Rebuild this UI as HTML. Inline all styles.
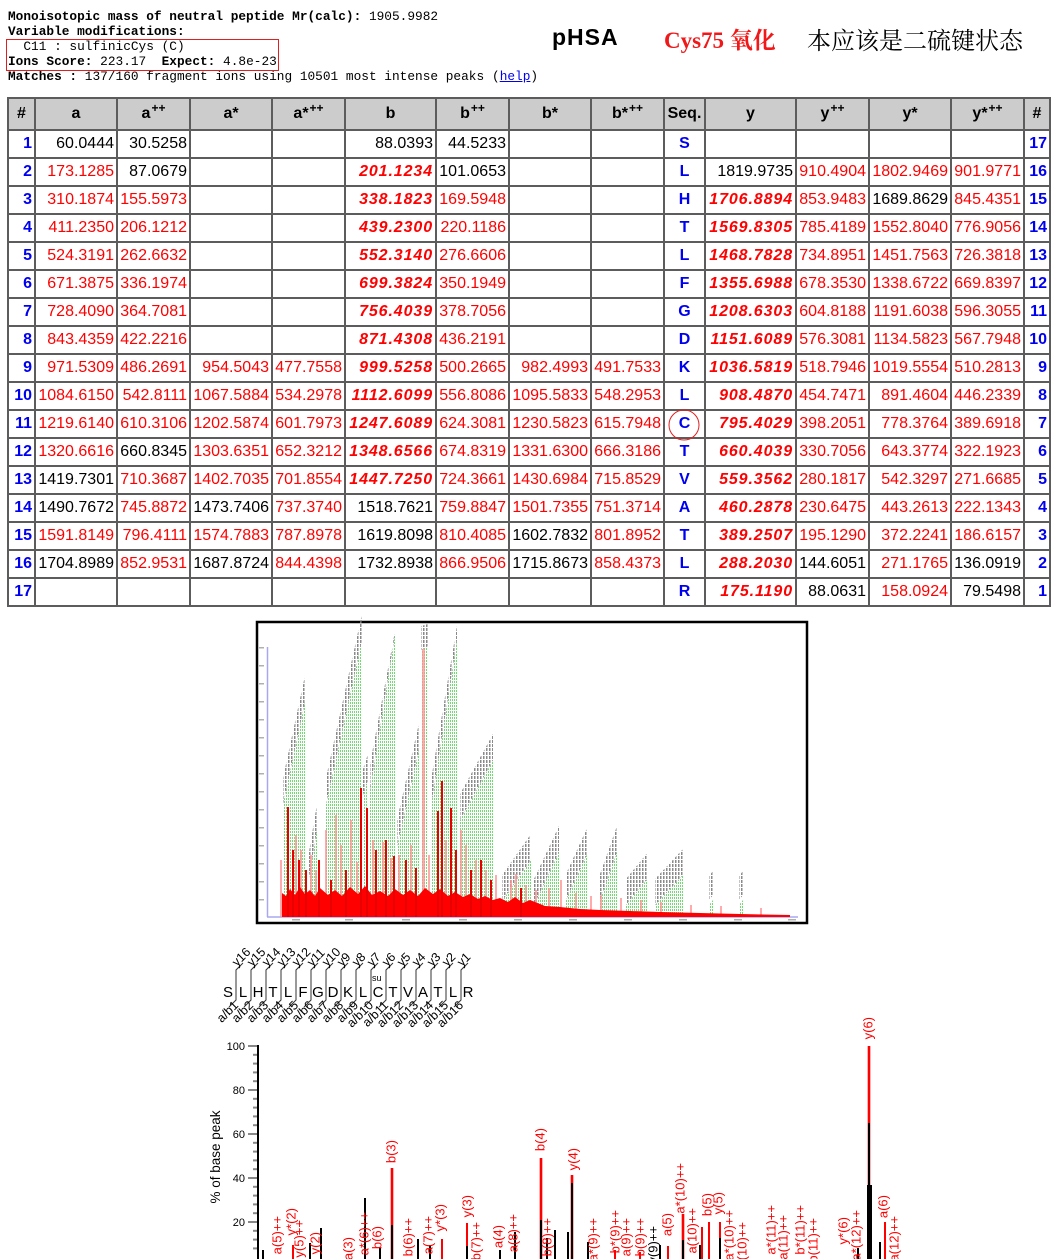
<!DOCTYPE html>
<html><head><meta charset="utf-8">
<style>
html,body{margin:0;padding:0;background:#fff;}
body{width:1062px;height:1259px;position:relative;overflow:hidden;}
.hd{position:absolute;left:8px;top:9px;font:12.8px/15px "Liberation Mono",monospace;white-space:pre;color:#000;}
.hd b{font-weight:bold;}
.box{position:absolute;left:6px;top:39px;width:271px;height:30px;border:1px solid #e02020;}
.help{position:absolute;left:492px;top:69px;font:12.8px/15px "Liberation Mono",monospace;color:#000;}
.help a{color:#0000ee;text-decoration:underline;}
.t1{position:absolute;left:552px;top:24px;font:bold 23px "Liberation Sans",sans-serif;letter-spacing:1px;color:#000;}
.t2{position:absolute;left:664px;top:22px;font:bold 23px "Liberation Serif","Noto Serif CJK SC",serif;color:#f01818;}
.t3{position:absolute;left:807px;top:21px;font:24px "Liberation Serif","Noto Serif CJK SC",serif;color:#000;}
.tbl{position:absolute;left:7px;top:97px;display:grid;
 grid-template-columns:27px 82px 73px 82px 73px 91px 73px 82px 73px 41px 91px 73px 82px 73px 26px;
 grid-template-rows:32px repeat(17,28px);border-left:2px solid #5c5c5c;border-top:2px solid #5c5c5c;}
.tbl>div{border-right:2px solid #5c5c5c;border-bottom:2px solid #5c5c5c;box-sizing:border-box;
 font:16px/26px "Liberation Sans",sans-serif;text-align:right;padding-right:2px;white-space:nowrap;overflow:hidden;color:#000;}
.tbl>div.h{background:#cccccc;font-weight:bold;text-align:center;line-height:30px;padding:0;}
.tbl>div.h i{font-style:normal;font-size:12px;position:relative;top:-6px;margin-left:1px;}
.tbl>div.r{color:#f00;}
.tbl>div.b{color:#f00;font-weight:bold;font-style:italic;letter-spacing:0.9px;}
.tbl>div.n{color:#0000f0;font-weight:bold;}
.tbl>div.s{color:#0000f0;font-weight:bold;text-align:center;padding:0;}
svg.main{position:absolute;left:0;top:0;}
</style></head><body>
<div class="hd"><b>Monoisotopic mass of neutral peptide Mr(calc):</b> 1905.9982
<b>Variable modifications:</b>
  C11 : sulfinicCys (C)
<b>Ions Score:</b> 223.17  <b>Expect:</b> 4.8e-23
<b>Matches :</b> 137/160 fragment ions using 10501 most intense peaks</div>
<div class="box"></div>
<div class="help">(<a>help</a>)</div>
<div class="t1">pHSA</div>
<div class="t2">Cys75 氧化</div>
<div class="t3">本应该是二硫键状态</div>

<div class="tbl">
<div class="h">#</div><div class="h">a</div><div class="h">a<i>++</i></div><div class="h">a*</div><div class="h">a*<i>++</i></div><div class="h">b</div><div class="h">b<i>++</i></div><div class="h">b*</div><div class="h">b*<i>++</i></div><div class="h">Seq.</div><div class="h">y</div><div class="h">y<i>++</i></div><div class="h">y*</div><div class="h">y*<i>++</i></div><div class="h">#</div>

<div class="n">1</div><div>60.0444</div><div>30.5258</div><div></div><div></div><div>88.0393</div><div>44.5233</div><div></div><div></div><div class="s">S</div><div></div><div></div><div></div><div></div><div class="n">17</div>

<div class="n">2</div><div class="r">173.1285</div><div>87.0679</div><div></div><div></div><div class="b">201.1234</div><div>101.0653</div><div></div><div></div><div class="s">L</div><div>1819.9735</div><div class="r">910.4904</div><div class="r">1802.9469</div><div class="r">901.9771</div><div class="n">16</div>

<div class="n">3</div><div class="r">310.1874</div><div class="r">155.5973</div><div></div><div></div><div class="b">338.1823</div><div class="r">169.5948</div><div></div><div></div><div class="s">H</div><div class="b">1706.8894</div><div class="r">853.9483</div><div>1689.8629</div><div class="r">845.4351</div><div class="n">15</div>

<div class="n">4</div><div class="r">411.2350</div><div class="r">206.1212</div><div></div><div></div><div class="b">439.2300</div><div class="r">220.1186</div><div></div><div></div><div class="s">T</div><div class="b">1569.8305</div><div class="r">785.4189</div><div class="r">1552.8040</div><div class="r">776.9056</div><div class="n">14</div>

<div class="n">5</div><div class="r">524.3191</div><div class="r">262.6632</div><div></div><div></div><div class="b">552.3140</div><div class="r">276.6606</div><div></div><div></div><div class="s">L</div><div class="b">1468.7828</div><div class="r">734.8951</div><div class="r">1451.7563</div><div class="r">726.3818</div><div class="n">13</div>

<div class="n">6</div><div class="r">671.3875</div><div class="r">336.1974</div><div></div><div></div><div class="b">699.3824</div><div class="r">350.1949</div><div></div><div></div><div class="s">F</div><div class="b">1355.6988</div><div class="r">678.3530</div><div class="r">1338.6722</div><div class="r">669.8397</div><div class="n">12</div>

<div class="n">7</div><div class="r">728.4090</div><div class="r">364.7081</div><div></div><div></div><div class="b">756.4039</div><div class="r">378.7056</div><div></div><div></div><div class="s">G</div><div class="b">1208.6303</div><div class="r">604.8188</div><div class="r">1191.6038</div><div class="r">596.3055</div><div class="n">11</div>

<div class="n">8</div><div class="r">843.4359</div><div class="r">422.2216</div><div></div><div></div><div class="b">871.4308</div><div class="r">436.2191</div><div></div><div></div><div class="s">D</div><div class="b">1151.6089</div><div class="r">576.3081</div><div class="r">1134.5823</div><div class="r">567.7948</div><div class="n">10</div>

<div class="n">9</div><div class="r">971.5309</div><div class="r">486.2691</div><div class="r">954.5043</div><div class="r">477.7558</div><div class="b">999.5258</div><div class="r">500.2665</div><div class="r">982.4993</div><div class="r">491.7533</div><div class="s">K</div><div class="b">1036.5819</div><div class="r">518.7946</div><div class="r">1019.5554</div><div class="r">510.2813</div><div class="n">9</div>

<div class="n">10</div><div class="r">1084.6150</div><div class="r">542.8111</div><div class="r">1067.5884</div><div class="r">534.2978</div><div class="b">1112.6099</div><div class="r">556.8086</div><div class="r">1095.5833</div><div class="r">548.2953</div><div class="s">L</div><div class="b">908.4870</div><div class="r">454.7471</div><div class="r">891.4604</div><div class="r">446.2339</div><div class="n">8</div>

<div class="n">11</div><div class="r">1219.6140</div><div class="r">610.3106</div><div class="r">1202.5874</div><div class="r">601.7973</div><div class="b">1247.6089</div><div class="r">624.3081</div><div class="r">1230.5823</div><div class="r">615.7948</div><div class="s">C</div><div class="b">795.4029</div><div class="r">398.2051</div><div class="r">778.3764</div><div class="r">389.6918</div><div class="n">7</div>

<div class="n">12</div><div class="r">1320.6616</div><div>660.8345</div><div class="r">1303.6351</div><div class="r">652.3212</div><div class="b">1348.6566</div><div class="r">674.8319</div><div class="r">1331.6300</div><div class="r">666.3186</div><div class="s">T</div><div class="b">660.4039</div><div class="r">330.7056</div><div class="r">643.3774</div><div class="r">322.1923</div><div class="n">6</div>

<div class="n">13</div><div>1419.7301</div><div class="r">710.3687</div><div class="r">1402.7035</div><div class="r">701.8554</div><div class="b">1447.7250</div><div class="r">724.3661</div><div class="r">1430.6984</div><div class="r">715.8529</div><div class="s">V</div><div class="b">559.3562</div><div class="r">280.1817</div><div class="r">542.3297</div><div class="r">271.6685</div><div class="n">5</div>

<div class="n">14</div><div>1490.7672</div><div class="r">745.8872</div><div>1473.7406</div><div class="r">737.3740</div><div>1518.7621</div><div class="r">759.8847</div><div class="r">1501.7355</div><div class="r">751.3714</div><div class="s">A</div><div class="b">460.2878</div><div class="r">230.6475</div><div class="r">443.2613</div><div class="r">222.1343</div><div class="n">4</div>

<div class="n">15</div><div class="r">1591.8149</div><div class="r">796.4111</div><div class="r">1574.7883</div><div class="r">787.8978</div><div>1619.8098</div><div class="r">810.4085</div><div>1602.7832</div><div class="r">801.8952</div><div class="s">T</div><div class="b">389.2507</div><div class="r">195.1290</div><div class="r">372.2241</div><div class="r">186.6157</div><div class="n">3</div>

<div class="n">16</div><div>1704.8989</div><div class="r">852.9531</div><div>1687.8724</div><div class="r">844.4398</div><div>1732.8938</div><div class="r">866.9506</div><div>1715.8673</div><div class="r">858.4373</div><div class="s">L</div><div class="b">288.2030</div><div>144.6051</div><div class="r">271.1765</div><div>136.0919</div><div class="n">2</div>

<div class="n">17</div><div></div><div></div><div></div><div></div><div></div><div></div><div></div><div></div><div class="s">R</div><div class="b">175.1190</div><div>88.0631</div><div class="r">158.0924</div><div>79.5498</div><div class="n">1</div>
</div>

<svg class="main" width="1062" height="1259" viewBox="0 0 1062 1259" xmlns="http://www.w3.org/2000/svg">
<defs>
<pattern id="gp" width="2" height="3" patternUnits="userSpaceOnUse"><rect x="0" y="0" width="1" height="2" fill="#74d874"/></pattern>
<pattern id="lp" width="3" height="4" patternUnits="userSpaceOnUse"><rect x="0" y="0" width="1.5" height="3" fill="#8a8a8a"/></pattern>
</defs>

<circle cx="684" cy="425" r="15" fill="none" stroke="#e02020" stroke-width="1"/>

<!-- spectrum image -->
<rect x="257" y="622" width="550" height="301" fill="#fff" stroke="#000" stroke-width="2.5"/>
<line x1="267.5" y1="647" x2="267.5" y2="917" stroke="#a8a8f0" stroke-width="1.5"/>
<line x1="267" y1="917" x2="798" y2="917" stroke="#a8a8f0" stroke-width="1.5"/>
<g fill="#b0b0b0">
<rect x="259" y="647" width="5" height="1.5"/><rect x="259" y="665" width="5" height="1.5"/><rect x="259" y="683" width="5" height="1.5"/><rect x="259" y="701" width="5" height="1.5"/><rect x="259" y="719" width="5" height="1.5"/><rect x="259" y="737" width="5" height="1.5"/><rect x="259" y="755" width="5" height="1.5"/><rect x="259" y="773" width="5" height="1.5"/><rect x="259" y="791" width="5" height="1.5"/><rect x="259" y="809" width="5" height="1.5"/><rect x="259" y="827" width="5" height="1.5"/><rect x="259" y="845" width="5" height="1.5"/><rect x="259" y="863" width="5" height="1.5"/><rect x="259" y="881" width="5" height="1.5"/><rect x="259" y="899" width="5" height="1.5"/>
<rect x="292" y="919" width="8" height="1.5"/><rect x="345" y="919" width="8" height="1.5"/><rect x="402" y="919" width="8" height="1.5"/><rect x="459" y="919" width="8" height="1.5"/><rect x="514" y="919" width="8" height="1.5"/><rect x="569" y="919" width="8" height="1.5"/><rect x="624" y="919" width="8" height="1.5"/><rect x="679" y="919" width="8" height="1.5"/><rect x="734" y="919" width="8" height="1.5"/><rect x="788" y="919" width="8" height="1.5"/>
</g>
<g fill="url(#gp)">
<polygon points="283,917 283,804 306,697 306,917"/>
<polygon points="309,917 309,878 318,824 318,917"/>
<polygon points="326,917 326,804 362,640 362,917"/>
<polygon points="363,917 363,795 368,780 368,917"/>
<polygon points="370,917 370,790 396,628 396,917"/>
<polygon points="397,917 397,846 420,745 420,917"/>
<polygon points="421,917 421,650 428,646 428,917"/>
<polygon points="431,917 431,806 457,640 457,917"/>
<polygon points="460,917 460,820 493,760 493,917"/>
<polygon points="502,917 502,901 531,860 531,917"/>
<polygon points="534,917 534,905 559,852 559,917"/>
<polygon points="566,917 566,900 588,852 588,917"/>
<polygon points="600,917 600,900 617,852 617,917"/>
<polygon points="626,917 626,905 648,878 648,917"/>
<polygon points="655,917 655,905 683,875 683,917"/>
<polygon points="709,917 709,905 713,900 713,917"/>
<polygon points="739,917 739,905 743,900 743,917"/>
</g>
<g fill="url(#lp)">
<polygon points="283,804 306,697 306,671 283,778"/>
<polygon points="309,878 318,824 318,798 309,852"/>
<polygon points="326,804 362,640 362,614 326,778"/>
<polygon points="363,795 368,780 368,754 363,769"/>
<polygon points="370,790 396,628 396,626 370,764"/>
<polygon points="397,846 420,745 420,719 397,820"/>
<polygon points="421,650 428,646 428,624 421,626"/>
<polygon points="431,806 457,640 457,626 431,780"/>
<polygon points="460,820 493,760 493,734 460,794"/>
<polygon points="502,901 531,860 531,834 502,875"/>
<polygon points="534,905 559,852 559,826 534,879"/>
<polygon points="566,900 588,852 588,826 566,874"/>
<polygon points="600,900 617,852 617,826 600,874"/>
<polygon points="626,905 648,878 648,852 626,879"/>
<polygon points="655,905 683,875 683,849 655,879"/>
<polygon points="709,900 713,895 713,871 709,876"/>
<polygon points="739,900 743,895 743,871 739,876"/>
</g>
<g fill="#ff9090" opacity="0.75">
<rect x="280" y="860" width="2" height="57"/><rect x="295" y="835" width="2" height="82"/><rect x="300" y="850" width="2" height="67"/><rect x="310" y="855" width="2" height="62"/><rect x="315" y="870" width="2" height="47"/><rect x="325" y="830" width="2" height="87"/><rect x="335" y="815" width="2" height="102"/><rect x="340" y="845" width="2" height="72"/><rect x="350" y="820" width="2" height="97"/><rect x="356" y="862" width="2" height="55"/><rect x="372" y="840" width="2" height="77"/><rect x="382" y="842" width="2" height="75"/><rect x="390" y="858" width="2" height="59"/><rect x="398" y="855" width="2" height="62"/><rect x="410" y="845" width="2" height="72"/><rect x="422" y="649" width="3" height="268"/><rect x="428" y="855" width="2" height="62"/><rect x="445" y="840" width="2" height="77"/><rect x="460" y="830" width="2" height="87"/><rect x="465" y="845" width="2" height="72"/><rect x="475" y="860" width="2" height="57"/><rect x="485" y="870" width="2" height="47"/><rect x="495" y="875" width="2" height="42"/><rect x="510" y="880" width="2" height="37"/><rect x="515" y="874" width="2" height="43"/><rect x="525" y="885" width="2" height="32"/><rect x="535" y="890" width="2" height="27"/><rect x="548" y="888" width="2" height="29"/><rect x="560" y="880" width="2" height="37"/><rect x="575" y="893" width="2" height="24"/><rect x="590" y="896" width="2" height="21"/><rect x="600" y="895" width="2" height="22"/><rect x="620" y="898" width="2" height="19"/><rect x="640" y="900" width="2" height="17"/><rect x="660" y="902" width="2" height="15"/><rect x="690" y="905" width="2" height="12"/><rect x="720" y="906" width="2" height="11"/><rect x="760" y="908" width="2" height="9"/>
</g>
<polygon fill="#ff0000" points="282,917 282,893 286,896 290,889 295,895 300,887 305,894 310,890 315,896 320,888 328,895 335,890 342,896 350,887 358,894 365,886 372,895 380,891 388,896 395,889 403,895 410,890 418,896 425,888 433,894 440,889 448,896 455,892 463,897 470,894 478,899 485,896 493,900 500,898 508,902 515,897 523,903 530,900 545,906 560,907 580,909 600,910 630,911 660,912 700,913 740,914 790,915 790,917"/>
<g fill="#e80000">
<rect x="287" y="807" width="2" height="110"/><rect x="292" y="850" width="2" height="67"/><rect x="298" y="860" width="2" height="57"/><rect x="305" y="870" width="2" height="47"/><rect x="318" y="860" width="2" height="57"/><rect x="330" y="880" width="2" height="37"/><rect x="345" y="870" width="2" height="47"/><rect x="360" y="788" width="2" height="129"/><rect x="366" y="808" width="2" height="109"/><rect x="375" y="850" width="2" height="67"/><rect x="385" y="840" width="2" height="77"/><rect x="393" y="856" width="2" height="61"/><rect x="405" y="860" width="2" height="57"/><rect x="415" y="868" width="2" height="49"/><rect x="437" y="811" width="2" height="106"/><rect x="441" y="781" width="2" height="136"/><rect x="450" y="808" width="2" height="109"/><rect x="455" y="850" width="2" height="67"/><rect x="470" y="870" width="2" height="47"/><rect x="480" y="860" width="2" height="57"/><rect x="490" y="880" width="2" height="37"/><rect x="520" y="888" width="2" height="29"/>
</g>

<!-- sequence diagram -->
<g font-family="Liberation Sans, sans-serif" font-size="15" fill="#000" text-anchor="middle">
<text x="228" y="997">S</text><text x="243" y="997">L</text><text x="258" y="997">H</text><text x="273" y="997">T</text><text x="288" y="997">L</text><text x="303" y="997">F</text><text x="318" y="997">G</text><text x="333" y="997">D</text><text x="348" y="997">K</text><text x="363" y="997">L</text><text x="378" y="997">C</text><text x="393" y="997">T</text><text x="408" y="997">V</text><text x="423" y="997">A</text><text x="438" y="997">T</text><text x="453" y="997">L</text><text x="468" y="997">R</text>
</g>
<text x="372" y="981" font-family="Liberation Sans, sans-serif" font-size="9" fill="#000">su</text>
<g fill="none" stroke="#333" stroke-width="1">
<polyline points="243,963 236,970 236,1000 229,1007"/><polyline points="258,963 251,970 251,1000 244,1007"/><polyline points="273,963 266,970 266,1000 259,1007"/><polyline points="288,963 281,970 281,1000 274,1007"/><polyline points="303,963 296,970 296,1000 289,1007"/><polyline points="318,963 311,970 311,1000 304,1007"/><polyline points="333,963 326,970 326,1000 319,1007"/><polyline points="348,963 341,970 341,1000 334,1007"/><polyline points="363,963 356,970 356,1000 349,1007"/><polyline points="378,963 371,970 371,1000 364,1007"/><polyline points="393,963 386,970 386,1000 379,1007"/><polyline points="408,963 401,970 401,1000 394,1007"/><polyline points="423,963 416,970 416,1000 409,1007"/><polyline points="438,963 431,970 431,1000 424,1007"/><polyline points="453,963 446,970 446,1000 439,1007"/><polyline points="468,963 461,970 461,1000 454,1007"/>
</g>
<g font-family="Liberation Sans, sans-serif" font-size="12.5" fill="#000">
<text transform="translate(237,967) rotate(-45)">y16</text><text transform="translate(252,967) rotate(-45)">y15</text><text transform="translate(267,967) rotate(-45)">y14</text><text transform="translate(282,967) rotate(-45)">y13</text><text transform="translate(297,967) rotate(-45)">y12</text><text transform="translate(312,967) rotate(-45)">y11</text><text transform="translate(327,967) rotate(-45)">y10</text><text transform="translate(342,967) rotate(-45)">y9</text><text transform="translate(357,967) rotate(-45)">y8</text><text transform="translate(372,967) rotate(-45)">y7</text><text transform="translate(387,967) rotate(-45)">y6</text><text transform="translate(402,967) rotate(-45)">y5</text><text transform="translate(417,967) rotate(-45)">y4</text><text transform="translate(432,967) rotate(-45)">y3</text><text transform="translate(447,967) rotate(-45)">y2</text><text transform="translate(462,967) rotate(-45)">y1</text>
</g>
<g font-family="Liberation Sans, sans-serif" font-size="12.5" fill="#000" text-anchor="end">
<text transform="translate(239,1006) rotate(-45)">a/b1</text><text transform="translate(254,1006) rotate(-45)">a/b2</text><text transform="translate(269,1006) rotate(-45)">a/b3</text><text transform="translate(284,1006) rotate(-45)">a/b4</text><text transform="translate(299,1006) rotate(-45)">a/b5</text><text transform="translate(314,1006) rotate(-45)">a/b6</text><text transform="translate(329,1006) rotate(-45)">a/b7</text><text transform="translate(344,1006) rotate(-45)">a/b8</text><text transform="translate(359,1006) rotate(-45)">a/b9</text><text transform="translate(374,1006) rotate(-45)">a/b10</text><text transform="translate(389,1006) rotate(-45)">a/b11</text><text transform="translate(404,1006) rotate(-45)">a/b12</text><text transform="translate(419,1006) rotate(-45)">a/b13</text><text transform="translate(434,1006) rotate(-45)">a/b14</text><text transform="translate(449,1006) rotate(-45)">a/b15</text><text transform="translate(464,1006) rotate(-45)">a/b16</text>
</g>

<!-- bottom chart -->
<text transform="translate(220,1157) rotate(-90)" text-anchor="middle" font-family="Liberation Sans, sans-serif" font-size="13.5" fill="#000">% of base peak</text>
<g stroke="#888" stroke-width="2">
<line x1="248" y1="1046" x2="258" y2="1046"/><line x1="248" y1="1090" x2="258" y2="1090"/><line x1="248" y1="1134" x2="258" y2="1134"/><line x1="248" y1="1178" x2="258" y2="1178"/><line x1="248" y1="1222" x2="258" y2="1222"/>
<line x1="253" y1="1054.8" x2="258" y2="1054.8"/><line x1="253" y1="1063.6" x2="258" y2="1063.6"/><line x1="253" y1="1072.4" x2="258" y2="1072.4"/><line x1="253" y1="1081.2" x2="258" y2="1081.2"/>
<line x1="253" y1="1098.8" x2="258" y2="1098.8"/><line x1="253" y1="1107.6" x2="258" y2="1107.6"/><line x1="253" y1="1116.4" x2="258" y2="1116.4"/><line x1="253" y1="1125.2" x2="258" y2="1125.2"/>
<line x1="253" y1="1142.8" x2="258" y2="1142.8"/><line x1="253" y1="1151.6" x2="258" y2="1151.6"/><line x1="253" y1="1160.4" x2="258" y2="1160.4"/><line x1="253" y1="1169.2" x2="258" y2="1169.2"/>
<line x1="253" y1="1186.8" x2="258" y2="1186.8"/><line x1="253" y1="1195.6" x2="258" y2="1195.6"/><line x1="253" y1="1204.4" x2="258" y2="1204.4"/><line x1="253" y1="1213.2" x2="258" y2="1213.2"/>
<line x1="253" y1="1230.8" x2="258" y2="1230.8"/><line x1="253" y1="1239.6" x2="258" y2="1239.6"/><line x1="253" y1="1248.4" x2="258" y2="1248.4"/>
</g>
<line x1="258" y1="1045" x2="258" y2="1259" stroke="#000" stroke-width="2"/>
<g font-family="Liberation Sans, sans-serif" font-size="11" fill="#000" text-anchor="end">
<text x="245" y="1050">100</text><text x="245" y="1094">80</text><text x="245" y="1138">60</text><text x="245" y="1182">40</text><text x="245" y="1226">20</text>
</g>
<g stroke="#ffb0b0" stroke-width="4">
<line x1="392" y1="1168" x2="392" y2="1259"/><line x1="541" y1="1158" x2="541" y2="1259"/><line x1="572" y1="1175" x2="572" y2="1259"/><line x1="869" y1="1046" x2="869" y2="1259"/><line x1="683" y1="1214" x2="683" y2="1259"/>
</g>
<g stroke="#f00" stroke-width="2">
<line x1="392" y1="1168" x2="392" y2="1259"/><line x1="541" y1="1158" x2="541" y2="1259"/><line x1="572" y1="1175" x2="572" y2="1259"/><line x1="869" y1="1046" x2="869" y2="1259"/><line x1="683" y1="1214" x2="683" y2="1259"/><line x1="709" y1="1222" x2="709" y2="1259"/><line x1="702" y1="1227" x2="702" y2="1259"/><line x1="720" y1="1222" x2="720" y2="1259"/><line x1="885" y1="1222" x2="885" y2="1259"/><line x1="467" y1="1223" x2="467" y2="1259"/><line x1="293" y1="1245" x2="293" y2="1259"/><line x1="442" y1="1239" x2="442" y2="1259"/><line x1="615" y1="1250" x2="615" y2="1259"/><line x1="640" y1="1252" x2="640" y2="1259"/><line x1="668" y1="1246" x2="668" y2="1259"/>
</g>
<g stroke="#000" stroke-width="2">
<line x1="392" y1="1225" x2="392" y2="1259"/><line x1="541" y1="1220" x2="541" y2="1259"/><line x1="572" y1="1183" x2="572" y2="1259"/><line x1="869" y1="1123" x2="869" y2="1259"/><line x1="365" y1="1198" x2="365" y2="1259"/><line x1="321" y1="1228" x2="321" y2="1259"/><line x1="418" y1="1239" x2="418" y2="1259"/><line x1="310" y1="1243" x2="310" y2="1259"/><line x1="430" y1="1245" x2="430" y2="1259"/><line x1="515" y1="1232" x2="515" y2="1259"/><line x1="547" y1="1238" x2="547" y2="1259"/><line x1="555" y1="1230" x2="555" y2="1259"/><line x1="568" y1="1232" x2="568" y2="1259"/><line x1="588" y1="1242" x2="588" y2="1259"/><line x1="683" y1="1240" x2="683" y2="1259"/><line x1="880" y1="1242" x2="880" y2="1259"/><line x1="700" y1="1245" x2="700" y2="1259"/><line x1="720" y1="1238" x2="720" y2="1259"/><line x1="263" y1="1250" x2="263" y2="1259"/><line x1="467" y1="1246" x2="467" y2="1259"/><line x1="380" y1="1248" x2="380" y2="1259"/><line x1="500" y1="1250" x2="500" y2="1259"/><line x1="660" y1="1245" x2="660" y2="1259"/><line x1="858" y1="1248" x2="858" y2="1259"/>
</g>
<rect x="867" y="1185" width="5" height="74" fill="#000"/>
<g font-family="Liberation Sans, sans-serif" font-size="13" fill="#f00" text-anchor="end">
<text transform="translate(395.5,1140) rotate(-90)">b(3)</text>
<text transform="translate(544.5,1128) rotate(-90)">b(4)</text>
<text transform="translate(577.5,1148) rotate(-90)">y(4)</text>
<text transform="translate(872.5,1017) rotate(-90)">y(6)</text>
<text transform="translate(684.5,1163) rotate(-90)">a*(10)++</text>
<text transform="translate(711.5,1193) rotate(-90)">b(5)</text>
<text transform="translate(722.5,1192) rotate(-90)">y(5)</text>
<text transform="translate(887.5,1195) rotate(-90)">a(6)</text>
<text transform="translate(471.5,1195) rotate(-90)">y(3)</text>
<text transform="translate(295.5,1208) rotate(-90)">y*(2)</text>
<text transform="translate(281.5,1216) rotate(-90)">a(5)++</text>
<text transform="translate(303.5,1220) rotate(-90)">y(5)++</text>
<text transform="translate(319.5,1232) rotate(-90)">y(2)</text>
<text transform="translate(352.5,1237) rotate(-90)">a(3)</text>
<text transform="translate(368.5,1212) rotate(-90)">a*(6)++</text>
<text transform="translate(381.5,1226) rotate(-90)">b(6)</text>
<text transform="translate(412.5,1218) rotate(-90)">b(6)++</text>
<text transform="translate(432.5,1216) rotate(-90)">a(7)++</text>
<text transform="translate(444.5,1204) rotate(-90)">y*(3)</text>
<text transform="translate(480.5,1222) rotate(-90)">b(7)++</text>
<text transform="translate(502.5,1225) rotate(-90)">a(4)</text>
<text transform="translate(517.5,1214) rotate(-90)">a(8)++</text>
<text transform="translate(551.5,1218) rotate(-90)">b(8)++</text>
<text transform="translate(597.5,1218) rotate(-90)">a*(9)++</text>
<text transform="translate(619.5,1210) rotate(-90)">b*(9)++</text>
<text transform="translate(630.5,1218) rotate(-90)">a(9)++</text>
<text transform="translate(644.5,1218) rotate(-90)">b(9)++</text>
<text transform="translate(657.5,1226) rotate(-90)" fill="#000">y(9)++</text>
<text transform="translate(671.5,1213) rotate(-90)">a(5)</text>
<text transform="translate(696.5,1208) rotate(-90)">a(10)++</text>
<text transform="translate(733.5,1210) rotate(-90)">a*(10)++</text>
<text transform="translate(746.5,1222) rotate(-90)">b(10)++</text>
<text transform="translate(775.5,1205) rotate(-90)">a*(11)++</text>
<text transform="translate(787.5,1215) rotate(-90)">a(11)++</text>
<text transform="translate(804.5,1205) rotate(-90)">b*(11)++</text>
<text transform="translate(817.5,1218) rotate(-90)">b(11)++</text>
<text transform="translate(847.5,1217) rotate(-90)">y*(6)</text>
<text transform="translate(860.5,1210) rotate(-90)">a*(12)++</text>
<text transform="translate(898.5,1216) rotate(-90)">a(12)++</text>
</g>
</svg>
</body></html>
